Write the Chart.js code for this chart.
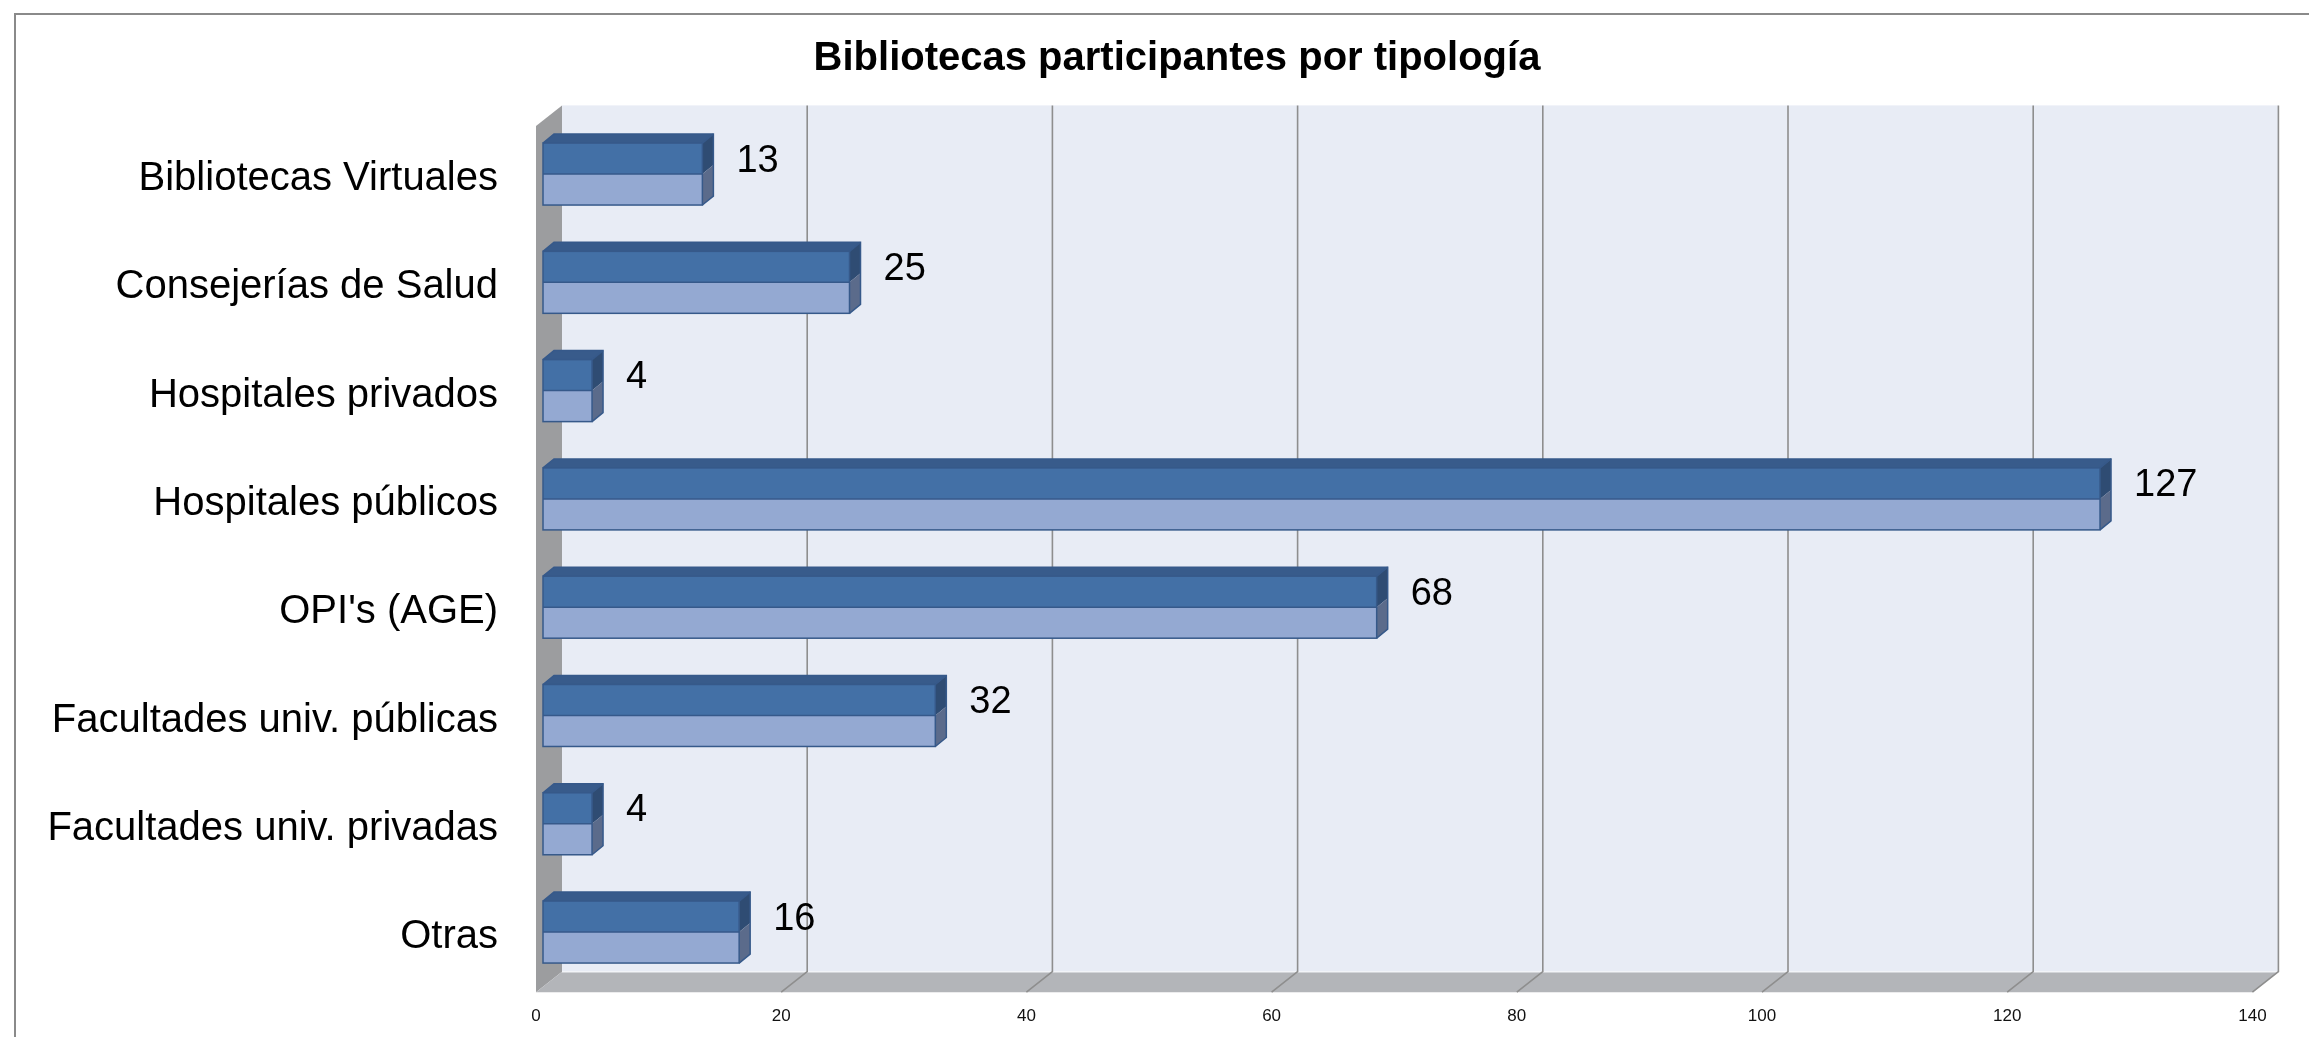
<!DOCTYPE html>
<html>
<head>
<meta charset="utf-8">
<style>
html,body{margin:0;padding:0;background:#fff;overflow:hidden}
canvas{display:block}
</style>
<script src="https://cdn.jsdelivr.net/npm/chart.js@4/dist/chart.umd.min.js"></script>
</head>
<body>
<canvas id="c" width="2309" height="1037" style="width:2309px;height:1037px"></canvas>
<script>
// ---- data ----
const categories = [
  'Bibliotecas Virtuales',
  'Consejerías de Salud',
  'Hospitales privados',
  'Hospitales públicos',
  "OPI's (AGE)",
  'Facultades univ. públicas',
  'Facultades univ. privadas',
  'Otras'
];
const values = [13, 25, 4, 127, 68, 32, 4, 16];
const tickValues = [0, 20, 40, 60, 80, 100, 120, 140];
const chartTitle = 'Bibliotecas participantes por tipología';

// ---- styling / 3D geometry ----
const FONT = "'Liberation Sans', Arial, sans-serif";
const BACK = {dx: 19, dy: -14.5};   // back wall plane offset from bar plane
const FRONT = {dx: -7, dy: 6};      // front (floor edge) plane offset
const BAR_D = {dx: 11, dy: -9};     // depth of each bar
const TITLE_LEFT_INSET = 94.6;      // title box is centred over the plot, not the page

const wallsPlugin = {
  id: 'walls3d',
  afterLayout(chart) {
    if (chart.titleBlock) chart.titleBlock.left += TITLE_LEFT_INSET;
  },
  beforeDraw(chart) {
    const ctx = chart.ctx, a = chart.chartArea, xs = chart.scales.x;
    const vMin = tickValues[0], vMax = tickValues[tickValues.length - 1];
    const x0 = xs.getPixelForValue(vMin), x1 = xs.getPixelForValue(vMax);
    const bx0 = x0 + BACK.dx, bx1 = x1 + BACK.dx, bt = a.top + BACK.dy, bb = a.bottom + BACK.dy;
    const fx0 = x0 + FRONT.dx, fx1 = x1 + FRONT.dx, ft = a.top + FRONT.dy, fb = a.bottom + FRONT.dy;
    ctx.save();
    // outer frame
    ctx.strokeStyle = '#8a8a8a'; ctx.lineWidth = 2;
    ctx.beginPath(); ctx.moveTo(15, chart.height + 2); ctx.lineTo(15, 14); ctx.lineTo(chart.width + 2, 14); ctx.stroke();
    // back wall
    ctx.fillStyle = '#e8ecf5';
    ctx.fillRect(bx0, bt, bx1 - bx0, bb - bt);
    // side wall
    ctx.fillStyle = '#9c9d9f';
    ctx.beginPath(); ctx.moveTo(fx0, ft); ctx.lineTo(bx0, bt); ctx.lineTo(bx0, bb); ctx.lineTo(fx0, fb); ctx.closePath(); ctx.fill();
    // floor
    ctx.fillStyle = '#b3b5b9';
    ctx.beginPath(); ctx.moveTo(bx0, bb); ctx.lineTo(bx1, bb); ctx.lineTo(fx1, fb); ctx.lineTo(fx0, fb); ctx.closePath(); ctx.fill();
    // light edge where wall meets floor
    ctx.strokeStyle = '#f2f4f8'; ctx.lineWidth = 1.5;
    ctx.beginPath(); ctx.moveTo(bx0, bb); ctx.lineTo(bx1, bb); ctx.stroke();
    // grid lines
    ctx.strokeStyle = '#8e8e8e'; ctx.lineWidth = 1.6;
    tickValues.forEach(v => {
      if (v === vMin) return;
      const p = xs.getPixelForValue(v);
      ctx.beginPath();
      ctx.moveTo(p + BACK.dx, bt);
      ctx.lineTo(p + BACK.dx, bb);
      ctx.lineTo(p + FRONT.dx, fb);
      ctx.stroke();
    });
    ctx.restore();
  },
  afterDatasetsDraw(chart) {
    const ctx = chart.ctx;
    const meta = chart.getDatasetMeta(0);
    ctx.save();
    meta.data.forEach((el, i) => {
      const xb = el.base, xe = el.x, top = el.y - el.height / 2, bot = el.y + el.height / 2, mid = el.y;
      // upper (darker) half of front face
      ctx.fillStyle = '#4370a6';
      ctx.fillRect(xb, top, xe - xb, mid - top);
      // top face
      ctx.fillStyle = '#385b8b';
      ctx.beginPath(); ctx.moveTo(xb, top); ctx.lineTo(xb + BAR_D.dx, top + BAR_D.dy); ctx.lineTo(xe + BAR_D.dx, top + BAR_D.dy); ctx.lineTo(xe, top); ctx.closePath(); ctx.fill();
      // side face upper
      ctx.fillStyle = '#2f4c73';
      ctx.beginPath(); ctx.moveTo(xe, top); ctx.lineTo(xe + BAR_D.dx, top + BAR_D.dy); ctx.lineTo(xe + BAR_D.dx, mid + BAR_D.dy); ctx.lineTo(xe, mid); ctx.closePath(); ctx.fill();
      // side face lower
      ctx.fillStyle = '#5b6b8b';
      ctx.beginPath(); ctx.moveTo(xe, mid); ctx.lineTo(xe + BAR_D.dx, mid + BAR_D.dy); ctx.lineTo(xe + BAR_D.dx, bot + BAR_D.dy); ctx.lineTo(xe, bot); ctx.closePath(); ctx.fill();
      // outlines
      ctx.strokeStyle = '#36598a'; ctx.lineWidth = 1.5;
      ctx.strokeRect(xb, top, xe - xb, bot - top);
      ctx.beginPath(); ctx.moveTo(xb, mid); ctx.lineTo(xe, mid); ctx.stroke();
      ctx.beginPath(); ctx.moveTo(xb, top); ctx.lineTo(xb + BAR_D.dx, top + BAR_D.dy); ctx.lineTo(xe + BAR_D.dx, top + BAR_D.dy); ctx.lineTo(xe + BAR_D.dx, bot + BAR_D.dy); ctx.lineTo(xe, bot); ctx.stroke();
      ctx.beginPath(); ctx.moveTo(xe, top); ctx.lineTo(xe + BAR_D.dx, top + BAR_D.dy); ctx.stroke();
      // value label
      ctx.fillStyle = '#000';
      ctx.font = '38px ' + FONT;
      ctx.textAlign = 'left'; ctx.textBaseline = 'middle';
      ctx.fillText(String(values[i]), xe + 34, mid - 13);
    });
    ctx.restore();
  }
};

new Chart(document.getElementById('c'), {
  type: 'bar',
  data: {
    labels: categories,
    datasets: [{
      data: values,
      backgroundColor: '#94a9d2',
      borderColor: '#36598a',
      borderWidth: 0,
      categoryPercentage: 1,
      barPercentage: 0.5725
    }]
  },
  plugins: [wallsPlugin],
  options: {
    indexAxis: 'y',
    responsive: false,
    animation: false,
    layout: {padding: {left: 0, right: 49.6, top: 0, bottom: 0}},
    plugins: {
      legend: {display: false},
      tooltip: {enabled: false},
      title: {
        display: true,
        text: chartTitle,
        color: '#000',
        font: {family: FONT, size: 40, weight: 'bold'},
        padding: {top: 35, bottom: 36.9}
      }
    },
    scales: {
      x: {
        type: 'linear',
        min: tickValues[0],
        max: tickValues[tickValues.length - 1],
        afterBuildTicks: s => { s.ticks = tickValues.map(v => ({value: v})); },
        grid: {display: false, drawTicks: false},
        border: {display: false},
        ticks: {color: '#111', font: {family: FONT, size: 17}, padding: 20, labelOffset: -7, maxRotation: 0},
        afterFit: s => { s.height = 50.8; s.paddingLeft = 0; s.paddingRight = 0; }
      },
      y: {
        type: 'category',
        grid: {display: false, drawTicks: false},
        border: {display: false},
        ticks: {color: '#000', font: {family: FONT, size: 40}, padding: 45, labelOffset: 5},
        afterFit: s => { s.width = 543; s.paddingTop = 0; s.paddingBottom = 0; }
      }
    }
  }
});
</script>
</body>
</html>
